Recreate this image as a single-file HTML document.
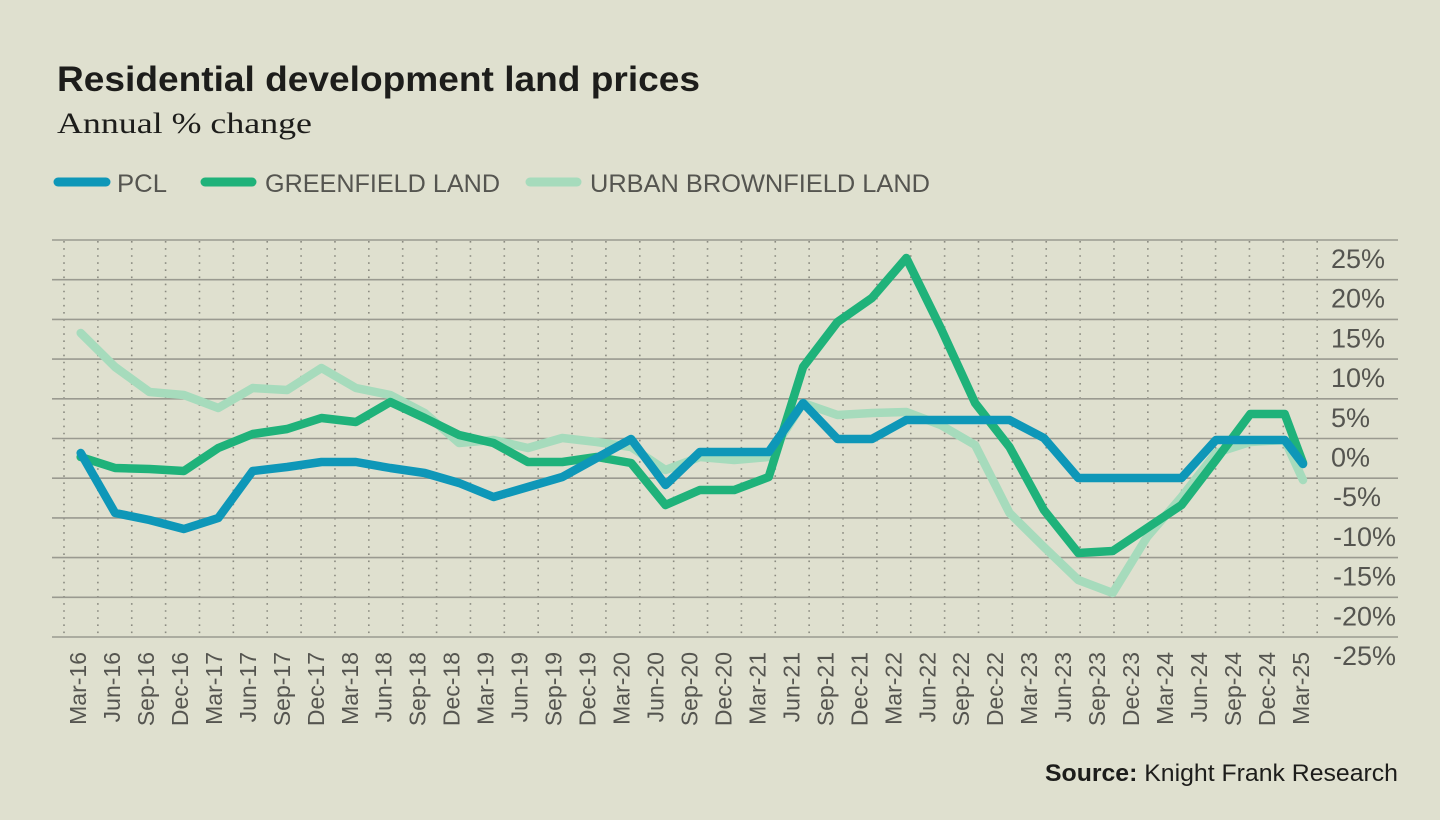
<!DOCTYPE html>
<html><head><meta charset="utf-8"><style>
html,body{margin:0;padding:0;background:#dfe0cf;}
svg{display:block;font-family:"Liberation Sans",Arial,sans-serif;}
</style></head><body>
<svg width="1440" height="820" viewBox="0 0 1440 820" xmlns="http://www.w3.org/2000/svg">
<rect width="1440" height="820" fill="#dfe0cf"/>
<text x="57" y="91" font-size="35" font-weight="bold" fill="#1d1d1b" textLength="643" lengthAdjust="spacingAndGlyphs">Residential development land prices</text>
<text x="57" y="133" font-size="30" fill="#1d1d1b" font-family="Liberation Serif, serif" textLength="255" lengthAdjust="spacingAndGlyphs">Annual % change</text>
<g font-size="25" fill="#555550">
<line x1="58" y1="182" x2="106" y2="182" stroke="#0e97b8" stroke-width="9" stroke-linecap="round"/>
<text x="117" y="192" textLength="50" lengthAdjust="spacingAndGlyphs">PCL</text>
<line x1="205" y1="182" x2="252" y2="182" stroke="#1fb27a" stroke-width="9" stroke-linecap="round"/>
<text x="265" y="192" textLength="235" lengthAdjust="spacingAndGlyphs">GREENFIELD LAND</text>
<line x1="530" y1="182" x2="577" y2="182" stroke="#a6dbbc" stroke-width="9" stroke-linecap="round"/>
<text x="590" y="192" textLength="340" lengthAdjust="spacingAndGlyphs">URBAN BROWNFIELD LAND</text>
</g>
<g id="grid"></g>
<g id="xl" font-size="23" fill="#555550"></g>
<g font-size="27" fill="#555550" id="yl"></g>
<g fill="none" stroke-linejoin="round" stroke-linecap="round" stroke-width="8.5" id="series"></g>
<text x="1398" y="781" font-size="24" fill="#1d1d1b" text-anchor="end" textLength="353" lengthAdjust="spacingAndGlyphs"><tspan font-weight="bold">Source:</tspan> Knight Frank Research</text>
<script>
var NS="http://www.w3.org/2000/svg";
function el(p,t,a,txt){var e=document.createElementNS(NS,t);for(var k in a)e.setAttribute(k,a[k]);if(txt)e.textContent=txt;p.appendChild(e);return e;}
var g=document.getElementById('grid');
for(var k=0;k<38;k++){var x=64+33.87*k;el(g,'line',{x1:x,y1:241,x2:x,y2:637,stroke:'#8a8a80','stroke-width':1.6,'stroke-dasharray':'1.6 5.5'});}
for(var j=0;j<11;j++){var y=240+39.7*j;el(g,'line',{x1:52,y1:y,x2:1398,y2:y,stroke:'#9a9a90','stroke-width':1.6});}
var yl=document.getElementById('yl');
var labs=['25%','20%','15%','10%','5%','0%','-5%','-10%','-15%','-20%','-25%'];
for(var j=0;j<11;j++){el(yl,'text',{x:j>=6?1333:1331,y:268+39.7*j},labs[j]);}
var xl=document.getElementById('xl');var m=['Mar','Jun','Sep','Dec'];
for(var i=0;i<37;i++){var lab=m[i%4]+'-'+(16+Math.floor(i/4));var x=78+33.97*i;
el(xl,'text',{x:0,y:0,'text-anchor':'end',transform:'translate('+(x+8)+',652) rotate(-90)'},lab);}
function X(i){return i==36?1303:80.7+34.4*i;}
var brown=[333,367,392,395,408,388,390,368,388,395,413,443,440,448,438,442,447,470,457,460,457,403,415,413,412,425,445,513,547,580,593,537,497,453,442,440,480];
var green=[457,468,469,471,448,434,429,418,422,402,418,435,443,462,462,457,463,505,490,490,477,367,322,298,258,328,403,447,510,553,551,528,505,460,414,414,463];
var blue=[453,513,520,529,518,471,467,462,462,468,473,483,497,487,477,458,439,485,452,452,452,403,439,439,420,420,420,420,438,478,478,478,478,440,440,440,464];
var s=document.getElementById('series');
[[brown,'#a6dbbc'],[green,'#1fb27a'],[blue,'#0e97b8']].forEach(function(d){
var p=d[0].map(function(v,i){return X(i).toFixed(1)+','+v;}).join(' ');
el(s,'polyline',{points:p,stroke:d[1]});});
</script>
</svg>
</body></html>
